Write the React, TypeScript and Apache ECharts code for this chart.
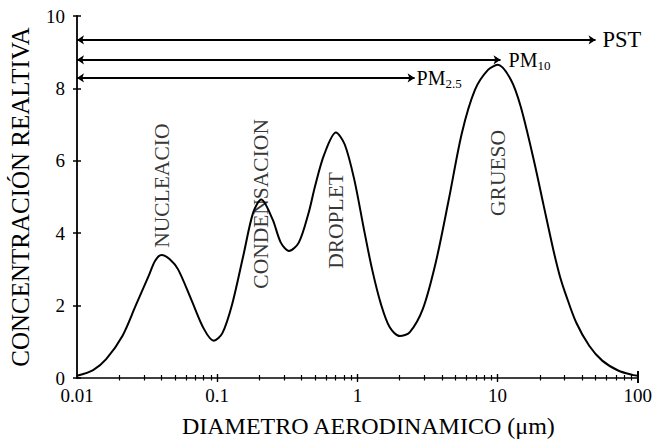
import React, { useEffect, useRef } from "react";
import * as echarts from "echarts";

// ---- data ----
const diameters = [
  0.01, 0.01303, 0.01615, 0.02113, 0.02616, 0.03245, 0.0361, 0.04018, 0.0459, 0.0526,
  0.06513, 0.08054, 0.09462, 0.1089, 0.1279, 0.1534, 0.1803, 0.2061, 0.2484, 0.2844,
  0.3251, 0.3819, 0.4487, 0.4989, 0.5795, 0.7031, 0.8128, 0.9506, 1.115, 1.274,
  1.473, 1.702, 2.009, 2.36, 2.927, 3.623, 4.488, 5.566, 6.897, 8.545,
  10.03, 12.44, 14.62, 18.11, 21.25, 24.96, 27.8, 30.9, 36.31, 45.06,
  55.81, 73.0, 92.9, 100,
];
const concentration = [
  0.06, 0.22, 0.52, 1.17, 1.99, 2.82, 3.24, 3.4, 3.28, 3.0,
  2.18, 1.35, 1.03, 1.24, 2.04, 3.37, 4.56, 4.93, 4.38, 3.74,
  3.51, 3.74, 4.56, 5.3, 6.17, 6.78, 6.45, 5.48, 4.1, 3.0,
  2.04, 1.4, 1.16, 1.26, 1.9, 3.19, 4.93, 6.77, 7.96, 8.51,
  8.65, 8.24, 7.5, 6.03, 4.79, 3.55, 2.82, 2.27, 1.54, 0.89,
  0.48, 0.2, 0.08, 0.06,
];

const modeNames = ["NUCLEACIO", "CONDENSACION", "DROPLET", "GRUESO"];
const modeX = [0.0402, 0.206, 0.703, 10.0];
const modeBaseY = [3.5, 2.37, 2.92, 4.38];

const rangeNames = ["PST", "PM10", "PM2.5"];
const rangeLabels = ["{a|PST}", "{a|PM}{b|10}", "{a|PM}{b|2.5}"];
const rangeStart = [0.01, 0.01, 0.01];
const rangeEnd = [50, 10.5, 2.56];
const rangeY = [9.34, 8.79, 8.29];
const rangeLabelGap = [7, 8, 2];

const xTickValues = [0.01, 0.1, 1, 10, 100];
const xTickLabels = ["0.01", "0.1", "1", "10", "100"];
const xMajorTicks = [0.1, 1, 10];
const xMinorTicks = [
  0.02, 0.03, 0.04, 0.05, 0.06, 0.07, 0.08, 0.09,
  0.2, 0.3, 0.4, 0.5, 0.6, 0.7, 0.8, 0.9,
  2, 3, 4, 5, 6, 7, 8, 9,
  20, 30, 40, 50, 60, 70, 80, 90,
];
const xEndTick = [100];
const yTicks = [0, 2, 4, 6, 8, 10];

const FONT = "'Liberation Serif', 'Times New Roman', serif";
const TICK_COLOR = "#000";

// an extra axis that only draws tick marks crossing the main axis line
function tickXAxis(values: number[], total: number, up: number, lw: number) {
  return {
    type: "log",
    logBase: 10,
    min: 0.01,
    max: 100,
    position: "bottom",
    offset: -up,
    axisLine: { show: false },
    axisLabel: { show: false },
    splitLine: { show: false },
    axisTick: {
      show: true,
      length: total,
      customValues: values,
      lineStyle: { color: TICK_COLOR, width: lw },
    },
  };
}

export default function App() {
  const ref = useRef<HTMLDivElement>(null);
  useEffect(() => {
    if (!ref.current) return;
    const chart = echarts.init(ref.current, null, { renderer: "svg" });
    const option: any = {
      animation: false,
      backgroundColor: "#fff",
      grid: { left: 73.5, right: 9, top: 16, bottom: 64 },
      xAxis: [
        {
          type: "log",
          logBase: 10,
          min: 0.01,
          max: 100,
          position: "bottom",
          name: "DIAMETRO AERODINAMICO (μm)",
          nameLocation: "middle",
          nameGap: 36,
          nameTextStyle: {
            fontFamily: FONT,
            fontSize: 24,
            color: "#000",
            verticalAlign: "top",
            padding: [0, 0, 0, 22],
          },
          axisLine: { show: true, lineStyle: { color: "#000", width: 1.5 } },
          axisTick: { show: false },
          splitLine: { show: false },
          axisLabel: {
            fontFamily: FONT,
            fontSize: 19,
            color: "#000",
            margin: 8,
            formatter: (v: number) => {
              const i = xTickValues.findIndex((t) => Math.abs(Math.log10(t) - Math.log10(v)) < 1e-6);
              return i >= 0 ? xTickLabels[i] : "";
            },
          },
        },
        tickXAxis(xMinorTicks, 5.5, 3, 1.2),
        tickXAxis(xMajorTicks, 8, 4, 1.4),
        tickXAxis(xEndTick, 12, 7, 2),
      ],
      yAxis: [
        {
          type: "value",
          min: 0,
          max: 10,
          interval: 2,
          position: "left",
          name: "CONCENTRACIÓN REALTIVA",
          nameLocation: "middle",
          nameGap: 44,
          nameTextStyle: { fontFamily: FONT, fontSize: 25, color: "#000" },
          axisLine: { show: true, lineStyle: { color: "#000", width: 1.8 } },
          axisTick: { show: false },
          splitLine: { show: false },
          axisLabel: { fontFamily: FONT, fontSize: 19, color: "#000", margin: 12 },
        },
        {
          type: "value",
          min: 0,
          max: 10,
          interval: 2,
          position: "left",
          offset: -4,
          axisLine: { show: false },
          axisLabel: { show: false },
          splitLine: { show: false },
          axisTick: {
            show: true,
            length: 8,
            customValues: yTicks,
            lineStyle: { color: TICK_COLOR, width: 1.5 },
          },
        },
      ],
      series: [
        {
          type: "line",
          xAxisIndex: 0,
          yAxisIndex: 0,
          data: diameters.map((d, i) => [d, concentration[i]]),
          showSymbol: false,
          smooth: 0.3,
          lineStyle: { color: "#000", width: 2 },
          z: 4,
          markLine: {
            silent: true,
            symbol: ["arrow", "arrow"],
            symbolSize: 7,
            lineStyle: { color: "#000", width: 2, type: "solid" },
            data: rangeNames.map((n, i) => [
              {
                name: n,
                coord: [rangeStart[i], rangeY[i]],
                label: {
                  show: true,
                  position: "end",
                  distance: rangeLabelGap[i],
                  formatter: rangeLabels[i],
                  fontFamily: FONT,
                  fontSize: 20,
                  color: "#000",
                  rich: {
                    a: { fontFamily: FONT, fontSize: i === 0 ? 22.5 : 20, color: "#000", lineHeight: 24 },
                    b: { fontFamily: FONT, fontSize: 13, color: "#000", lineHeight: 12, verticalAlign: "bottom" },
                  },
                },
              },
              { coord: [rangeEnd[i], rangeY[i]] },
            ]),
          },
        },
        {
          type: "scatter",
          xAxisIndex: 0,
          yAxisIndex: 0,
          data: modeX.map((x, i) => [x, modeBaseY[i]]),
          symbol: "circle",
          symbolSize: 1,
          itemStyle: { color: "rgba(0,0,0,0)" },
          silent: true,
          z: 5,
          label: {
            show: true,
            position: "top",
            distance: 0,
            rotate: 90,
            align: "left",
            verticalAlign: "middle",
            offset: [3, 0],
            formatter: (p: any) => modeNames[p.dataIndex],
            fontFamily: FONT,
            fontSize: 21.5,
            color: "#000",
          },
        },
      ],
    };
    chart.setOption(option);
    return () => chart.dispose();
  }, []);
  return <div ref={ref} style={{ width: 655, height: 443, position: "absolute", left: 0, top: 0 }} />;
}
